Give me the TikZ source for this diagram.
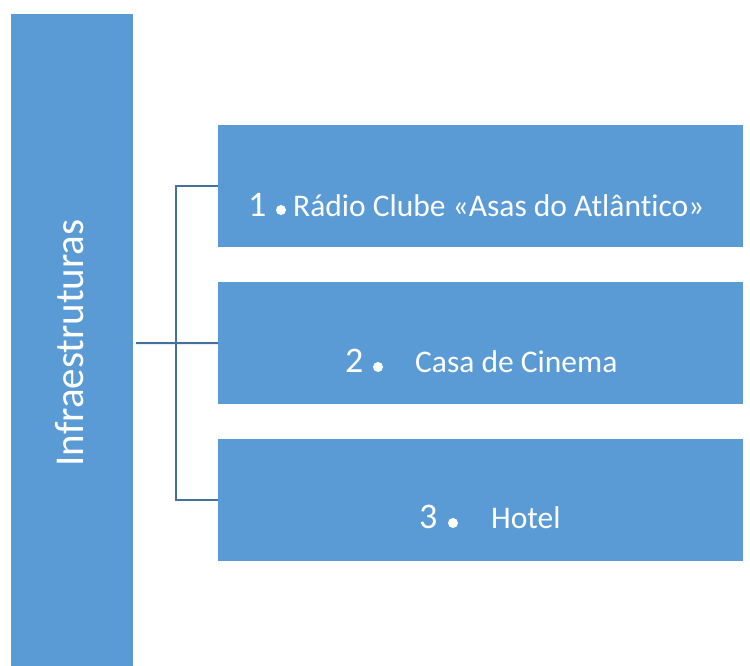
\documentclass[tikz,border=0pt]{standalone}
\usepackage{fontspec}
\setmainfont[Ligatures=NoCommon]{Carlito}
\definecolor{boxblue}{HTML}{5B9BD5}
\definecolor{lineblue}{HTML}{41719C}
\begin{document}
\begin{tikzpicture}[x=1pt,y=-1pt,
  boxfill/.style={fill=boxblue, draw=none},
  conn/.style={draw=lineblue, line width=2pt},
  numtxt/.style={text=white, font=\fontsize{36}{40}\selectfont, inner sep=0pt, anchor=base west},
  itemtxt/.style={text=white, font=\fontsize{31.5}{36}\selectfont, inner sep=0pt, anchor=base west},
  dotmark/.style={circle, fill=white, draw=none, minimum size=10pt, inner sep=0pt}]
\useasboundingbox (0,0) rectangle (750,666);
% left bar
\path[boxfill] (11,14) rectangle (133,666);
\node[text=white, font=\fontsize{41}{46}\selectfont, rotate=90, inner sep=0pt, anchor=base] (infra) at (83,343) {Infraestruturas};
\coordinate (barR) at (136,343);
% boxes
\node[boxfill, minimum width=525pt, minimum height=122pt, anchor=north west, inner sep=0pt] (b1) at (218,125) {};
\node[boxfill, minimum width=525pt, minimum height=122pt, anchor=north west, inner sep=0pt] (b2) at (218,282) {};
\node[boxfill, minimum width=525pt, minimum height=122pt, anchor=north west, inner sep=0pt] (b3) at (218,439) {};
% texts
\node[numtxt] (n1) at (248,216) {1};
\node[dotmark] (d1) at (281,210) {};
\node[itemtxt] (t1) at (293,216) {Rádio Clube «Asas do Atlântico»};
\node[numtxt] (n2) at (345,372) {2};
\node[dotmark] (d2) at (378,367) {};
\node[itemtxt] (t2) at (415,372) {Casa de Cinema};
\node[numtxt] (n3) at (419,528) {3};
\node[dotmark] (d3) at (453,523) {};
\node[itemtxt] (t3) at (491,528) {Hotel};
% connectors
\draw[conn] (barR) -- (b2.west);
\draw[conn] (b1.west |- 0,186) -- (176,186) -- (176,500) -- (b3.west |- 0,500);
\end{tikzpicture}
\end{document}
